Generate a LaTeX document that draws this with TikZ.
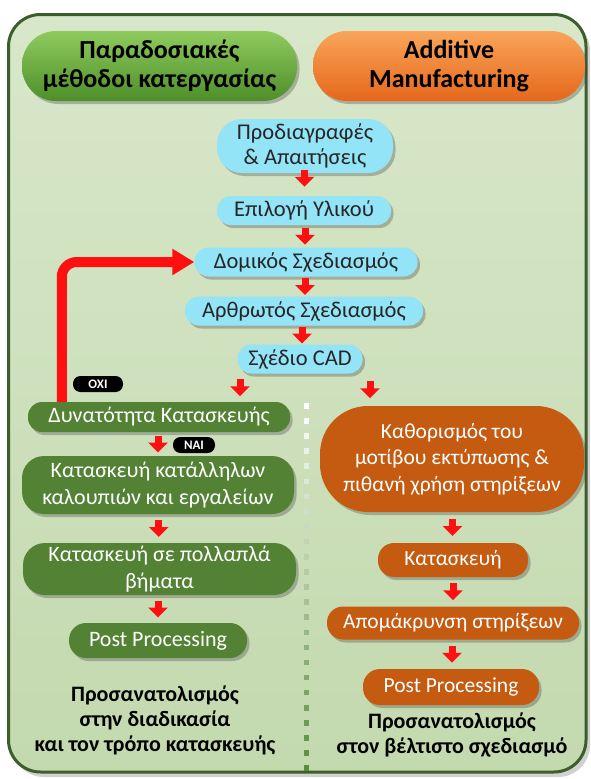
\documentclass[tikz,border=0pt]{standalone}
\usepackage{fontspec}
\setmainfont{Carlito}
\usetikzlibrary{arrows.meta,shadows,calc}
\definecolor{framedark}{HTML}{3B5E2B}
\definecolor{frametop}{HTML}{D8E7CA}
\definecolor{framebot}{HTML}{C3D9AE}
\definecolor{hgreenT}{HTML}{8FCB5E}
\definecolor{hgreenB}{HTML}{4E8E2A}
\definecolor{horangeT}{HTML}{F9A55A}
\definecolor{horangeB}{HTML}{E5671A}
\definecolor{cyanbox}{HTML}{93E4F7}
\definecolor{greenbox}{HTML}{548235}
\definecolor{orangebox}{HTML}{C55A11}
\definecolor{divgreen}{HTML}{5B8C3E}
\definecolor{arrred}{HTML}{FF1010}
\tikzset{
  shad/.style={drop shadow={shadow xshift=2.5pt,shadow yshift=-3pt,opacity=0.35,fill=black!70}},
  hdr/.style={shad,align=center,minimum width=275pt,minimum height=70pt,rounded corners=34pt,
    font=\bfseries\fontsize{26}{28.5}\selectfont,text=black,inner sep=0pt},
  cbox/.style={shad,fill=cyanbox,align=center,minimum height=29pt,rounded corners=14pt,
    font=\fontsize{22.5}{25}\selectfont,text=black!85,inner sep=0pt},
  gbox/.style={shad,fill=greenbox,align=center,minimum height=30pt,rounded corners=14pt,
    font=\fontsize{22}{27}\selectfont,text=white,inner sep=0pt},
  obox/.style={shad,fill=orangebox,align=center,minimum height=30pt,rounded corners=14pt,
    font=\fontsize{21.5}{26.5}\selectfont,text=white,inner sep=0pt},
  tagbox/.style={fill=black,text=white,rounded corners=7.5pt,minimum width=50pt,minimum height=16pt,
    inner sep=0pt,font=\bfseries\fontsize{13}{14}\selectfont},
  note/.style={align=center,font=\bfseries\fontsize{22}{25}\selectfont,text=black},
  redarr/.style={draw=arrred,line width=7pt,-{Triangle[width=19pt,length=10pt]},
    to path={($(\tikztostart)!.5!(\tikztotarget)$) ++(0,-8.5) -- ++(0,17)}},
  loopback/.style={draw=arrred,line width=10pt,rounded corners=15pt,-{Triangle[width=25pt,length=22pt]}}
}
\begin{document}
\begin{tikzpicture}[x=1pt,y=-1pt]
\useasboundingbox (0,0) rectangle (590,779);
\fill[white] (0,0) rectangle (590,779);
% outer frame
\fill[black!18,rounded corners=32pt] (12,19) rectangle (590,777);
\draw[line width=3pt,draw=framedark,top color=frametop,bottom color=framebot,rounded corners=32pt]
  (8.5,14.5) rectangle (586,772);
% headers
\node[hdr,top color=hgreenT,bottom color=hgreenB] (hg) at (159.5,66) {Παραδοσιακές\\μέθοδοι κατεργασίας};
\node[hdr,top color=horangeT,bottom color=horangeB,minimum width=272pt] (ho) at (449,66) {Additive\\Manufacturing};
% divider
\foreach \i in {0,...,24}{
  \pgfmathsetmacro\c{int(min(100,\i*4.2))}
  \fill[divgreen!\c!white] (303.5,{403+\i*15.1}) rectangle ++(5.5,5.5);
}
% central chain
\node[cbox,minimum width=176pt,minimum height=54pt,rounded corners=25pt] (prod) at (305,146) {Προδιαγραφές\\\& Απαιτήσεις};
\node[cbox,minimum width=174pt] (epi) at (304,210.5) {Επιλογή Υλικού};
\node[cbox,minimum width=223pt] (dom) at (306,262) {Δομικός Σχεδιασμός};
\node[cbox,minimum width=238pt] (arth) at (304,311) {Αρθρωτός Σχεδιασμός};
\node[cbox,minimum width=125pt] (cad) at (300,359) {Σχέδιο CAD};
% left column
\node[gbox,minimum width=262pt] (dyn) at (159,417) {Δυνατότητα Κατασκευής};
\node[gbox,minimum width=272pt,minimum height=58pt,rounded corners=22pt] (kat1) at (158,485) {Κατασκευή κατάλληλων\\καλουπιών και εργαλείων};
\node[gbox,minimum width=273pt,minimum height=52pt,rounded corners=22pt] (kat2) at (159.5,569) {Κατασκευή σε πολλαπλά\\βήματα};
\node[gbox,minimum width=178pt,minimum height=35pt,rounded corners=17pt] (pp1) at (158,640.5) {Post Processing};
\node[note] (nl) at (155,720) {Προσανατολισμός\\στην διαδικασία\\και τον τρόπο κατασκευής};
% right column
\node[obox,minimum width=264pt,minimum height=106pt,rounded corners=48pt] (kath) at (452,459) {Καθορισμός του\\μοτίβου εκτύπωσης \&\\πιθανή χρήση στηρίξεων};
\node[obox,minimum width=150pt,minimum height=34pt,rounded corners=16pt] (katr) at (453,560) {Κατασκευή};
\node[obox,minimum width=252pt,minimum height=33pt,rounded corners=16pt] (apo) at (453,623) {Απομάκρυνση στηρίξεων};
\node[obox,minimum width=176pt,minimum height=36pt,rounded corners=17pt] (pp2) at (451,687) {Post Processing};
\node[note] (nr) at (452,735) {Προσανατολισμός\\στον βέλτιστο σχεδιασμό};
% tags
\node[tagbox] (oxi) at (98,384) {ΟΧΙ};
\node[tagbox,minimum width=42pt] (nai) at (194,445) {ΝΑΙ};
% arrows
\draw[redarr] (prod) to (epi);
\draw[redarr] (epi) to (dom);
\draw[redarr] (dom) to (arth);
\draw[redarr] (arth) to (cad);
\draw[redarr] ([xshift=-60pt]cad.south) to ([xshift=-60pt]cad.south |- dyn.north);
\draw[redarr] ([xshift=70pt]cad.south) to ([xshift=70pt]cad.south |- kath.north);
\draw[redarr] ([xshift=-1pt]dyn.south) to ([xshift=0pt]kat1.north);
\draw[redarr] (kat1.south) to (kat2.south |- kat2.north);
\draw[redarr] ([xshift=-1.5pt]kat2.south) to (pp1.north);
\draw[redarr] (kath.south) to (katr.north);
\draw[redarr] (katr.south) to (apo.north);
\draw[redarr] (apo.south) to (pp2.north);
\draw[loopback] ([xshift=34pt]dyn.north west) |- (dom.west);
\end{tikzpicture}
\end{document}
